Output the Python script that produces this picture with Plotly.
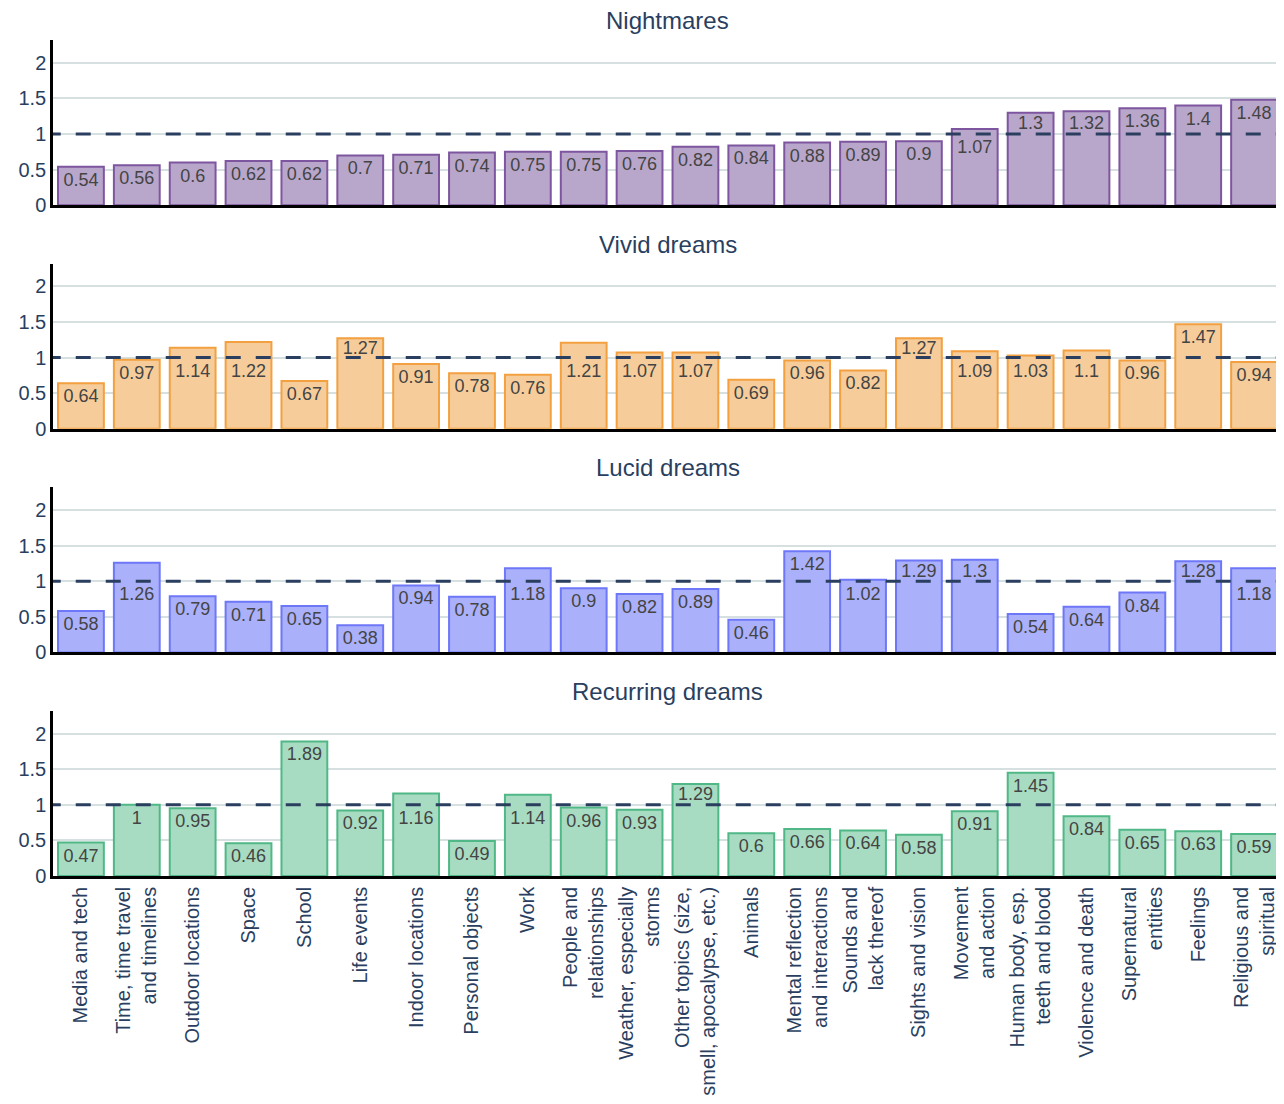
import plotly.graph_objects as go
from plotly.subplots import make_subplots

categories = [
    "Media and tech", "Time, time travel<br>and timelines", "Outdoor locations", "Space",
    "School", "Life events", "Indoor locations", "Personal objects", "Work",
    "People and<br>relationships", "Weather, especially<br>storms",
    "Other topics (size,<br>smell, apocalypse, etc.)", "Animals",
    "Mental reflection<br>and interactions", "Sounds and<br>lack thereof",
    "Sights and vision", "Movement<br>and action", "Human body, esp.<br>teeth and blood",
    "Violence and death", "Supernatural<br>entities", "Feelings", "Religious and<br>spiritual",
]

nightmares = [0.54, 0.56, 0.6, 0.62, 0.62, 0.7, 0.71, 0.74, 0.75, 0.75, 0.76,
              0.82, 0.84, 0.88, 0.89, 0.9, 1.07, 1.3, 1.32, 1.36, 1.4, 1.48]
vivid = [0.64, 0.97, 1.14, 1.22, 0.67, 1.27, 0.91, 0.78, 0.76, 1.21, 1.07,
         1.07, 0.69, 0.96, 0.82, 1.27, 1.09, 1.03, 1.1, 0.96, 1.47, 0.94]
lucid = [0.58, 1.26, 0.79, 0.71, 0.65, 0.38, 0.94, 0.78, 1.18, 0.9, 0.82,
         0.89, 0.46, 1.42, 1.02, 1.29, 1.3, 0.54, 0.64, 0.84, 1.28, 1.18]
recurring = [0.47, 1, 0.95, 0.46, 1.89, 0.92, 1.16, 0.49, 1.14, 0.96, 0.93,
             1.29, 0.6, 0.66, 0.64, 0.58, 0.91, 1.45, 0.84, 0.65, 0.63, 0.59]

titles = ["Nightmares", "Vivid dreams", "Lucid dreams", "Recurring dreams"]
series = [nightmares, vivid, lucid, recurring]
fills = ["#B9A7CB", "#F6CD9A", "#ABB0FA", "#A8DCC2"]
lines = ["#7E559F", "#F2A040", "#6D77F8", "#4FB886"]

BASELINE = 1.0
LABEL_ROOM = 0.265   # labels that would collide with the baseline go below it
CENTER_ROOM = 0.4    # short segments above the baseline get centred labels
TEXT = "#2a3f5f"
FONT = "Liberation Sans, Arial, sans-serif"
CLEAR = "rgba(0,0,0,0)"

fig = make_subplots(rows=4, cols=1, shared_xaxes=True, vertical_spacing=0.0698,
                    subplot_titles=titles)


def label_bar(y, text, base=None, anchor="end"):
    return go.Bar(
        x=categories, y=y, base=base, text=text,
        textposition="inside", insidetextanchor=anchor,
        textfont=dict(size=18, color="#444444", family=FONT),
        marker=dict(color=CLEAR, line=dict(width=0)),
        showlegend=False, hoverinfo="skip",
    )


for i, (vals, fc, lc) in enumerate(zip(series, fills, lines), start=1):
    below = [BASELINE < v < BASELINE + LABEL_ROOM for v in vals]
    mid = [BASELINE + LABEL_ROOM <= v < BASELINE + CENTER_ROOM for v in vals]
    top = [v >= BASELINE + CENTER_ROOM for v in vals]
    plain_text = [f"{v:g}" if v <= BASELINE else "" for v in vals]
    lower_text = [f"{v:g}" if b else "" for v, b in zip(vals, below)]
    mid_text = [f"{v:g}" if m else "" for v, m in zip(vals, mid)]
    top_text = [f"{v:g}" if t else "" for v, t in zip(vals, top)]
    upper = [max(v - BASELINE, 0) for v in vals]
    bases = [BASELINE] * len(vals)

    fig.add_trace(go.Bar(
        x=categories, y=vals, text=plain_text,
        textposition="inside", insidetextanchor="end",
        textfont=dict(size=18, color="#444444", family=FONT),
        marker=dict(color=fc, line=dict(color=lc, width=2)),
        showlegend=False, hoverinfo="skip",
    ), row=i, col=1)
    fig.add_trace(label_bar([min(v, BASELINE) for v in vals], lower_text), row=i, col=1)
    fig.add_trace(label_bar(upper, mid_text, base=bases, anchor="middle"), row=i, col=1)
    fig.add_trace(label_bar(upper, top_text, base=bases, anchor="end"), row=i, col=1)

    suffix = "" if i == 1 else str(i)
    fig.add_shape(type="line", xref=f"x{suffix}", yref=f"y{suffix}",
                  x0=-0.63, x1=len(categories) - 0.5, y0=BASELINE, y1=BASELINE,
                  line=dict(color=TEXT, width=3, dash="longdash"), layer="above")
    fig.update_yaxes(row=i, col=1, range=[0, 2.32], tickvals=[0, 0.5, 1, 1.5, 2],
                     showgrid=True, gridcolor="#D6E0E0", gridwidth=2,
                     showline=True, linecolor="black", linewidth=2.5,
                     ticks="", zeroline=False,
                     tickfont=dict(size=20, color=TEXT))
    fig.update_xaxes(row=i, col=1, range=[-0.5, len(categories) - 0.5],
                     showline=True, linecolor="black", linewidth=2.5,
                     showgrid=False, ticks="", tickangle=-90,
                     tickfont=dict(size=20, color=TEXT))

for ann in fig.layout.annotations:
    ann.font = dict(size=24, color=TEXT, family=FONT)
    ann.yshift = 4

fig.update_layout(
    width=1284, height=1104,
    template="plotly_white",
    plot_bgcolor="white", paper_bgcolor="white",
    font=dict(family=FONT, color=TEXT, size=20),
    margin=dict(l=37, r=10, t=32, b=236),
    barmode="overlay",
    bargap=0.18,
    uniformtext=dict(minsize=18, mode="show"),
)

fig.write_html("out.html")
